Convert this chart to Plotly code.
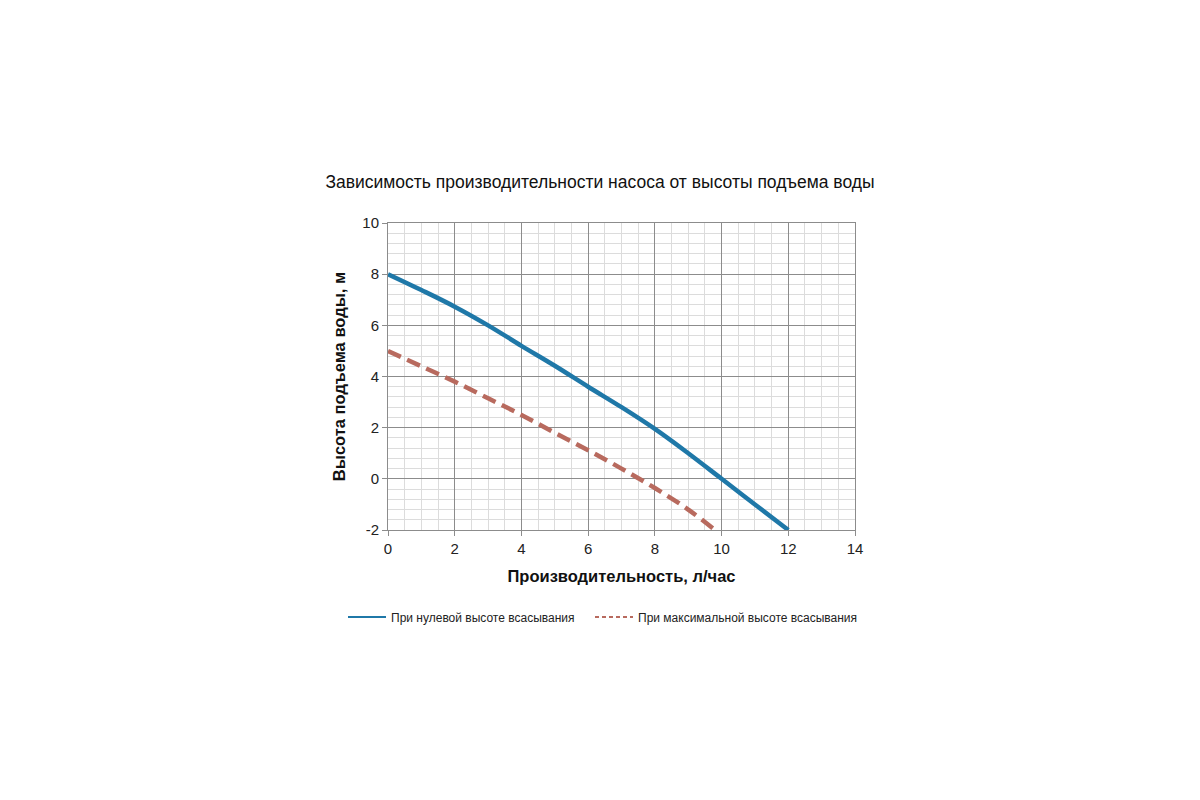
import plotly.graph_objects as go

title = "Зависимость производительности насоса от высоты подъема воды"
x_title = "Производительность, л/час"
y_title = "Высота подъема воды, м"

series1_name = "При нулевой высоте всасывания"
series1_x = [0, 1, 2, 3, 4, 5, 6, 7, 8, 9, 10, 11, 12]
series1_y = [8.0, 7.38, 6.73, 6.0, 5.2, 4.42, 3.6, 2.8, 1.95, 1.0, 0.0, -1.0, -2.0]

series2_name = "При максимальной высоте всасывания"
series2_x = [0, 1, 2, 3, 4, 5, 6, 7, 8, 9, 9.8]
series2_y = [5.0, 4.4, 3.8, 3.15, 2.5, 1.8, 1.12, 0.4, -0.36, -1.2, -2.0]

x_ticks = [0, 2, 4, 6, 8, 10, 12, 14]
y_ticks = [-2, 0, 2, 4, 6, 8, 10]
y_tick_labels = ["-2", "0", "2", "4", "6", "8", "10"]

c1 = "#1f78a8"
c2 = "#b86a5e"

fig = go.Figure()
fig.add_trace(go.Scatter(x=series1_x, y=series1_y, mode="lines", name=series1_name, showlegend=False,
                         line=dict(color=c1, width=4.5, shape="spline", smoothing=1.0)))
fig.add_trace(go.Scatter(x=series2_x, y=series2_y, mode="lines", name=series2_name, showlegend=False,
                         line=dict(color=c2, width=4.5, dash="14px,7px", shape="spline", smoothing=1.0)))
# legend entries with thin line samples
fig.add_trace(go.Scatter(x=[None], y=[None], mode="lines", name=series1_name, legend="legend",
                         line=dict(color=c1, width=2)))
fig.add_trace(go.Scatter(x=[None], y=[None], mode="lines", name=series2_name, legend="legend2",
                         line=dict(color=c2, width=2, dash="4px,3px")))

major = "#8c8c8c"
minor = "#dcdcdc"
legend_common = dict(orientation="h", xref="container", yref="container",
                     xanchor="left", yanchor="middle", y=1 - 617 / 800, itemwidth=38,
                     font=dict(size=12, color="#222"), bgcolor="rgba(0,0,0,0)")
fig.update_layout(
    width=1200, height=800,
    paper_bgcolor="white", plot_bgcolor="white",
    margin=dict(l=388, r=345, t=223, b=270),
    font=dict(family="Liberation Sans, Arial, sans-serif", color="#222"),
    title=dict(text=title, x=0.5, xref="container", xanchor="center",
               y=1 - 182 / 800, yref="container", yanchor="middle",
               font=dict(size=17.5, color="#111")),
    showlegend=True,
    legend=dict(x=343 / 1200, **legend_common),
    legend2=dict(x=590 / 1200, **legend_common),
    xaxis=dict(range=[0, 14], tickvals=x_ticks, showgrid=True, gridcolor=major, gridwidth=1,
               minor=dict(dtick=0.5, tick0=0, showgrid=True, gridcolor=minor, gridwidth=1),
               showline=True, linecolor=major, linewidth=1, mirror=True,
               ticks="outside", ticklen=5, tickcolor=major, zeroline=False,
               tickfont=dict(size=15, color="#222"),
               title=dict(text="<b>" + x_title + "</b>", font=dict(size=16.5, color="#111"), standoff=14)),
    yaxis=dict(range=[-2, 10], tickvals=y_ticks, ticktext=y_tick_labels, showgrid=True,
               gridcolor=major, gridwidth=1,
               minor=dict(dtick=0.4, tick0=-2, showgrid=True, gridcolor=minor, gridwidth=1),
               showline=True, linecolor=major, linewidth=1, mirror=True,
               ticks="outside", ticklen=5, tickcolor=major, zeroline=False,
               tickfont=dict(size=15, color="#222"),
               title=dict(text="<b>" + y_title + "</b>", font=dict(size=16.5, color="#111"), standoff=12)),
)

fig.write_html("out.html")
